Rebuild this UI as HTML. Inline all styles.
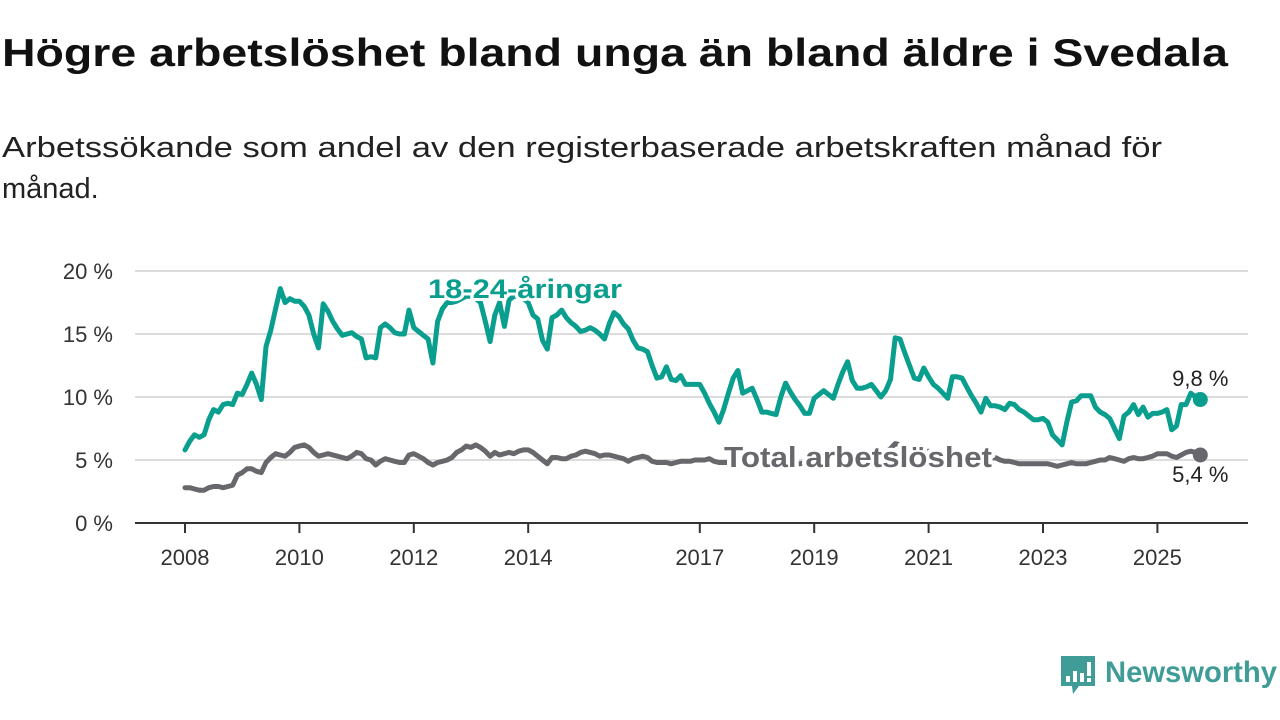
<!DOCTYPE html>
<html><head><meta charset="utf-8">
<style>
html,body{margin:0;padding:0;background:#fff;width:1280px;height:720px;overflow:hidden}
svg{display:block;font-family:"Liberation Sans","DejaVu Sans",sans-serif}
</style></head>
<body>
<svg id="chart" width="1280" height="720" viewBox="0 0 1280 720">
  <text x="2" y="66" font-size="39" font-weight="bold" fill="#111" textLength="1226" lengthAdjust="spacingAndGlyphs">Högre arbetslöshet bland unga än bland äldre i Svedala</text>
  <text x="2" y="157" font-size="29" fill="#222" textLength="1160" lengthAdjust="spacingAndGlyphs">Arbetssökande som andel av den registerbaserade arbetskraften månad för</text>
  <text x="2" y="198" font-size="29" fill="#222">månad.</text>
  <g id="grid"></g>
  <g id="yaxis"></g>
  <g id="xaxis"></g>
  <g id="series"></g>
  <g id="labels"></g>
  <g>
    <path d="M1061 656 h34 v30 h-16 l-6 8 l-1 -8 h-11 z" fill="#3f9c96"/>
    <rect x="1066" y="676" width="4" height="6" fill="#fff"/>
    <rect x="1073" y="671" width="4" height="11" fill="#fff"/>
    <rect x="1080" y="673" width="4" height="9" fill="#fff"/>
    <rect x="1087" y="662" width="4" height="14" fill="#fff"/>
    <rect x="1087" y="678" width="4" height="4" fill="#fff"/>
    <text x="1105" y="682" font-size="30" font-weight="bold" fill="#3f9c96" textLength="172" lengthAdjust="spacingAndGlyphs">Newsworthy</text>
  </g>
</svg>
<script>
const yTicks = [0, 5, 10, 15, 20];
const yTickLabels = ["0 %", "5 %", "10 %", "15 %", "20 %"];
const xTickYears = [2008, 2010, 2012, 2014, 2017, 2019, 2021, 2023, 2025];
const startYear = 2008;
const youth = [
5.8,6.5,7.0,6.8,7.0,8.2,9.0,8.8,9.4,9.5,9.4,10.3,
10.2,11.0,11.9,11.0,9.8,14.0,15.3,17.0,18.6,17.5,17.8,17.6,
17.6,17.2,16.5,15.0,13.9,17.4,16.8,16.0,15.4,14.9,15.0,15.1,
14.8,14.6,13.1,13.2,13.1,15.5,15.8,15.5,15.1,15.0,15.0,16.9,
15.5,15.2,14.9,14.6,12.7,16.0,17.0,17.5,17.5,17.6,17.8,18.0,
18.0,17.8,17.5,16.0,14.4,16.5,17.5,15.6,17.7,18.0,18.0,17.8,
17.5,16.5,16.2,14.5,13.8,16.3,16.5,16.9,16.3,15.9,15.6,15.2,
15.3,15.5,15.3,15.0,14.6,15.8,16.7,16.4,15.8,15.4,14.5,13.9,
13.8,13.6,12.5,11.5,11.6,12.4,11.4,11.3,11.7,11.0,11.0,11.0,
11.0,10.3,9.5,8.8,8.0,9.0,10.3,11.5,12.1,10.3,10.5,10.7,
9.8,8.8,8.8,8.7,8.6,10.0,11.1,10.4,9.8,9.3,8.7,8.7,
9.9,10.2,10.5,10.2,9.9,11.0,12.0,12.8,11.3,10.7,10.7,10.8,
11.0,10.5,10.0,10.5,11.4,14.7,14.6,13.5,12.5,11.5,11.4,12.3,
11.6,11.0,10.7,10.3,9.9,11.6,11.6,11.5,10.8,10.1,9.5,8.8,
9.9,9.3,9.3,9.2,9.0,9.5,9.4,9.0,8.8,8.5,8.2,8.2,
8.3,8.0,7.0,6.6,6.2,8.0,9.6,9.7,10.1,10.1,10.1,9.2,
8.8,8.6,8.3,7.5,6.7,8.5,8.8,9.4,8.6,9.2,8.4,8.7,
8.7,8.8,9.0,7.4,7.7,9.4,9.4,10.3,10.0,9.8];
const total = [
2.8,2.8,2.7,2.6,2.6,2.8,2.9,2.9,2.8,2.9,3.0,3.8,
4.0,4.3,4.3,4.1,4.0,4.8,5.2,5.5,5.4,5.3,5.6,6.0,
6.1,6.2,6.0,5.6,5.3,5.4,5.5,5.4,5.3,5.2,5.1,5.3,
5.6,5.5,5.1,5.0,4.6,4.9,5.1,5.0,4.9,4.8,4.8,5.4,
5.5,5.3,5.1,4.8,4.6,4.8,4.9,5.0,5.2,5.6,5.8,6.1,
6.0,6.2,6.0,5.7,5.3,5.6,5.4,5.5,5.6,5.5,5.7,5.8,
5.8,5.6,5.3,5.0,4.7,5.2,5.2,5.1,5.1,5.3,5.4,5.6,
5.7,5.6,5.5,5.3,5.4,5.4,5.3,5.2,5.1,4.9,5.1,5.2,
5.3,5.2,4.9,4.8,4.8,4.8,4.7,4.8,4.9,4.9,4.9,5.0,
5.0,5.0,5.1,4.9,4.8,4.8,4.8,4.9,4.9,4.8,4.8,4.8,
4.9,4.8,4.7,4.7,4.8,4.9,4.9,4.8,4.7,4.7,4.8,4.9,
4.9,5.0,5.0,5.0,5.1,5.2,5.2,5.2,5.1,5.1,5.2,5.3,
5.3,5.3,5.4,5.6,5.9,6.3,6.2,6.0,5.9,5.8,5.7,5.7,
5.7,5.6,5.6,5.5,5.4,5.5,5.5,5.4,5.3,5.2,5.2,5.2,
5.2,5.1,5.2,5.0,4.9,4.9,4.8,4.7,4.7,4.7,4.7,4.7,
4.7,4.7,4.6,4.5,4.6,4.7,4.8,4.7,4.7,4.7,4.8,4.9,
5.0,5.0,5.2,5.1,5.0,4.9,5.1,5.2,5.1,5.1,5.2,5.3,
5.5,5.5,5.5,5.3,5.2,5.4,5.6,5.7,5.6,5.4];

const NS = "http://www.w3.org/2000/svg";
const x0 = 185, pxPerYear = 57.2, yBase = 523, pxPerPct = 12.6;
const left = 135, right = 1248;
function xMonth(i){ return x0 + i * pxPerYear / 12; }
function xYear(yr){ return x0 + (yr - startYear) * pxPerYear; }
function yVal(v){ return yBase - v * pxPerPct; }
function mk(tag, attrs, parent){
  const e = document.createElementNS(NS, tag);
  for (const k in attrs) e.setAttribute(k, attrs[k]);
  parent.appendChild(e); return e;
}
const grid = document.getElementById('grid');
const yaxis = document.getElementById('yaxis');
const xaxis = document.getElementById('xaxis');
const series = document.getElementById('series');
const labels = document.getElementById('labels');

yTicks.forEach((t, k) => {
  if (t > 0) {
    const g = mk('line', {x1:left, x2:right, y1:yVal(t), y2:yVal(t), stroke:'#dcdcdc', 'stroke-width':2}, grid);
    
    
  }
  const tx = mk('text', {x:113, y:yVal(t)+8, 'font-size':22, fill:'#333', 'text-anchor':'end'}, yaxis);
  tx.textContent = yTickLabels[k];
  
  
});
const axl = mk('line', {x1:left, x2:right, y1:yBase, y2:yBase, stroke:'#333', 'stroke-width':2}, xaxis);


xTickYears.forEach(yr => {
  const x = xYear(yr);
  const tk = mk('line', {x1:x, x2:x, y1:yBase, y2:yBase+10, stroke:'#333', 'stroke-width':2}, xaxis);
  
  
  const tx = mk('text', {x:x, y:565, 'font-size':22, fill:'#333', 'text-anchor':'middle'}, xaxis);
  tx.textContent = yr;
  
  
});

function drawLine(data, color, name){
  const d = data.map((v,i) => (i ? 'L' : 'M') + xMonth(i).toFixed(1) + ' ' + yVal(v).toFixed(1)).join(' ');
  const p = mk('path', {d:d, fill:'none', stroke:color, 'stroke-width':5, 'stroke-linejoin':'round', 'stroke-linecap':'round'}, series);
  
  
  const n = data.length - 1;
  const c = mk('circle', {cx:xMonth(n), cy:yVal(data[n]), r:7.5, fill:color}, series);
  
  
  return {x: xMonth(n), y: yVal(data[n]), v: data[n]};
}
const teal = '#0a9e8e', gray = '#67676c';
const eT = drawLine(total, gray, 'total');
const eY = drawLine(youth, teal, 'youth');

function lbl(txt, attrs, name){
  const t = mk('text', attrs, labels);
  t.textContent = txt;
  
  
}
lbl('18-24-åringar', {x:428, y:298, 'font-size':27, 'font-weight':'bold', fill:teal, stroke:'#fff', 'stroke-width':6, 'paint-order':'stroke', 'stroke-linejoin':'round', textLength:194, lengthAdjust:'spacingAndGlyphs'}, 'youth-series-label');
lbl('Total arbetslöshet', {x:724, y:467, 'font-size':29, 'font-weight':'bold', fill:gray, stroke:'#fff', 'stroke-width':8, 'paint-order':'stroke', 'stroke-linejoin':'round', textLength:268, lengthAdjust:'spacingAndGlyphs'}, 'total-series-label');
lbl(eY.v.toFixed(1).replace('.', ',') + ' %', {x:eY.x, y:386, 'font-size':22, fill:'#222', 'text-anchor':'middle', stroke:'#fff', 'stroke-width':4, 'paint-order':'stroke'}, 'youth-end-value');
lbl(eT.v.toFixed(1).replace('.', ',') + ' %', {x:eT.x, y:482, 'font-size':22, fill:'#222', 'text-anchor':'middle', stroke:'#fff', 'stroke-width':4, 'paint-order':'stroke'}, 'total-end-value');
</script>
</body></html>
